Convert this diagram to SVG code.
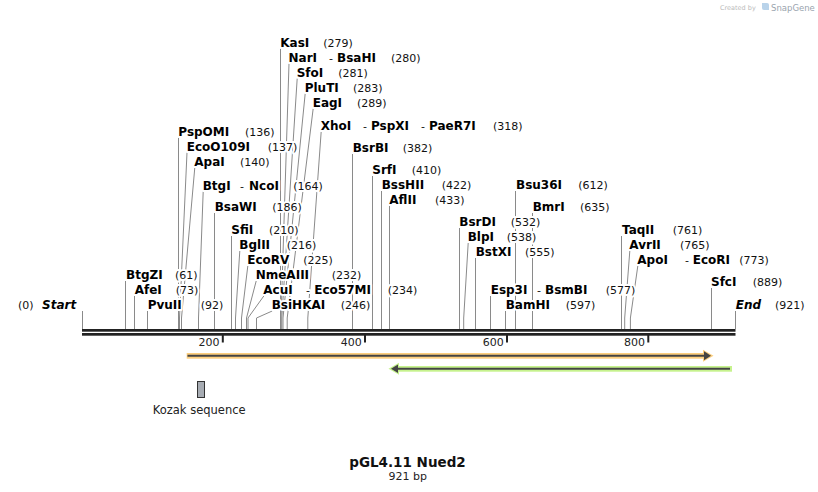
<svg xmlns="http://www.w3.org/2000/svg" width="818" height="492" viewBox="0 0 818 492">
<style>
.n{font-family:"DejaVu Sans",Verdana,sans-serif;font-weight:bold;font-size:12px;fill:#000}
.i{font-style:italic}
.p{font-family:"DejaVu Sans",Verdana,sans-serif;font-size:11px;fill:#111}
.h{paint-order:stroke;stroke:#fff;stroke-width:4px;stroke-linejoin:round}
.c{fill:none;stroke:#8a8a8a;stroke-width:1}
.t{font-family:"DejaVu Sans",Verdana,sans-serif;font-size:11px;fill:#222}
</style>
<rect width="818" height="492" fill="#fff"/>
<g id="logo">
<text x="720" y="10" style="font-family:'DejaVu Sans',sans-serif;font-size:6.5px;fill:#bbb">Created by</text>
<path d="M762,3 h5 a2,2 0 0 1 2,2 v5 h-5 a2,2 0 0 1 -2,-2 z" fill="#b9d3ea"/>
<text x="771" y="10.5" style="font-family:'DejaVu Sans',sans-serif;font-size:8.5px;fill:#9aa4ae">SnapGene</text>
</g>
<g id="connectors">
<path class="c" d="M82.5,311V329"/>
<path class="c" d="M735.5,311V329"/>
<path class="c" d="M125.5,281V329"/>
<path class="c" d="M134.5,296V329"/>
<path class="c" d="M147.5,311V329"/>
<path class="c" d="M178.5,137.5V329"/>
<path class="c" d="M187,152.5L179.5,318V329"/>
<path class="c" d="M194.8,167.5L181.5,318V329"/>
<path class="c" d="M203.2,191.5L198.5,318V329"/>
<path class="c" d="M214.5,213V329"/>
<path class="c" d="M231.5,236V329"/>
<path class="c" d="M239.8,251L235.5,318V329"/>
<path class="c" d="M247.8,266L241.5,318V329"/>
<path class="c" d="M256.2,281L246.5,318V329"/>
<path class="c" d="M263.8,296L248,318V329"/>
<path class="c" d="M272.2,311L256.5,318V329"/>
<path class="c" d="M280.5,48.5V329"/>
<path class="c" d="M289,63.5L281,318V329"/>
<path class="c" d="M297.2,78.5L281.8,318V329"/>
<path class="c" d="M305.2,93.5L283,318V329"/>
<path class="c" d="M313.2,108.5L287.2,318V329"/>
<path class="c" d="M321.2,131.5L307.8,318V329"/>
<path class="c" d="M352.5,154V329"/>
<path class="c" d="M372.5,176V329"/>
<path class="c" d="M381.5,191V329"/>
<path class="c" d="M389.5,206V329"/>
<path class="c" d="M459.5,228V329"/>
<path class="c" d="M468.2,243L463.7,318V329"/>
<path class="c" d="M475.5,258V329"/>
<path class="c" d="M490.5,296V329"/>
<path class="c" d="M505.5,311V329"/>
<path class="c" d="M515.5,191V329"/>
<path class="c" d="M532.5,213V329"/>
<path class="c" d="M621.5,236V329"/>
<path class="c" d="M629.8,251L624.7,318V329"/>
<path class="c" d="M637.8,266L630.4,318V329"/>
<path class="c" d="M711.5,288V329"/>
</g>
<g id="backbone">
<rect x="82" y="329" width="653.5" height="2.7" fill="#222"/>
<rect x="82" y="333" width="653.5" height="2.7" fill="#222"/>
<rect x="221.8" y="335" width="2" height="7.5" fill="#222"/>
<rect x="364" y="335" width="2" height="7.5" fill="#222"/>
<rect x="506" y="335" width="2" height="7.5" fill="#222"/>
<rect x="647.3" y="335" width="2" height="7.5" fill="#222"/>
<text class="t" x="219.5" y="346" text-anchor="end">200</text>
<text class="t" x="361.8" y="346" text-anchor="end">400</text>
<text class="t" x="503.8" y="346" text-anchor="end">600</text>
<text class="t" x="645" y="346" text-anchor="end">800</text>
</g>
<g id="feature-orange">
<rect x="186.7" y="353" width="520" height="5.7" fill="#fcce7e"/>
<polygon points="703,349.8 713.5,355.8 703,361.8" fill="#fcce7e"/>
<line x1="187.5" y1="355.8" x2="706" y2="355.8" stroke="#444" stroke-width="2"/>
<polygon points="704,351.3 711,355.8 704,360.3" fill="#444"/>
</g>
<g id="feature-green">
<rect x="395" y="366" width="737" height="5.7" fill="#c6f28e" transform="translate(0,0)" style="display:none"/>
<rect x="395" y="366" width="337" height="5.7" fill="#c6f28e"/>
<polygon points="399,362.8 388.5,368.8 399,374.8" fill="#c6f28e"/>
<line x1="396" y1="368.8" x2="730" y2="368.8" stroke="#444" stroke-width="2"/>
<polygon points="398,364.5 391,368.8 398,373.1" fill="#444"/>
</g>
<g id="kozak">
<rect x="197.5" y="381.5" width="7" height="16" fill="#a7acb3" stroke="#333" stroke-width="1"/>
<text x="199.2" y="414.3" text-anchor="middle" style="font-family:'DejaVu Sans',Verdana,sans-serif;font-size:11.5px;fill:#222">Kozak sequence</text>
</g>
<g id="title">
<text x="407.5" y="466.5" text-anchor="middle" style="font-family:'DejaVu Sans',Verdana,sans-serif;font-weight:bold;font-size:13.5px;fill:#111">pGL4.11 Nued2</text>
<text x="407.8" y="480" text-anchor="middle" style="font-family:'DejaVu Sans',Verdana,sans-serif;font-size:11px;fill:#222">921 bp</text>
</g>
<g id="start"><text class="p h" x="18" y="309">(0)</text><text class="n i h" x="42" y="309">Start</text></g>
<g id="end"><text class="n i h" x="735.7" y="309">End</text><text class="p h" x="775" y="309">(921)</text></g>
<g id="KasI"><text class="n h" x="280.3" y="46.5">KasI</text><text class="p h" x="323.3" y="46.5">(279)</text></g>
<g id="NarI"><text class="n h" x="288.5" y="61.5">NarI</text><text class="p h" x="329" y="61.5">-</text><text class="n h" x="337" y="61.5">BsaHI</text><text class="p h" x="391" y="61.5">(280)</text></g>
<g id="SfoI"><text class="n h" x="296.7" y="76.5">SfoI</text><text class="p h" x="338.3" y="76.5">(281)</text></g>
<g id="PluTI"><text class="n h" x="304.7" y="91.5">PluTI</text><text class="p h" x="353" y="91.5">(283)</text></g>
<g id="EagI"><text class="n h" x="312.7" y="106.5">EagI</text><text class="p h" x="357" y="106.5">(289)</text></g>
<g id="XhoI"><text class="n h" x="320.7" y="129.5">XhoI</text><text class="p h" x="363" y="129.5">-</text><text class="n h" x="371" y="129.5">PspXI</text><text class="p h" x="421" y="129.5">-</text><text class="n h" x="429" y="129.5">PaeR7I</text><text class="p h" x="493" y="129.5">(318)</text></g>
<g id="PspOMI"><text class="n h" x="178.3" y="135.5">PspOMI</text><text class="p h" x="245" y="135.5">(136)</text></g>
<g id="EcoO109I"><text class="n h" x="186.7" y="150.5">EcoO109I</text><text class="p h" x="267.7" y="150.5">(137)</text></g>
<g id="ApaI"><text class="n h" x="194.3" y="165.5">ApaI</text><text class="p h" x="240" y="165.5">(140)</text></g>
<g id="BtgI"><text class="n h" x="202.7" y="189.5">BtgI</text><text class="p h" x="240" y="189.5">-</text><text class="n h" x="249" y="189.5">NcoI</text><text class="p h" x="293.3" y="189.5">(164)</text></g>
<g id="BsaWI"><text class="n h" x="214.7" y="211">BsaWI</text><text class="p h" x="272.3" y="211">(186)</text></g>
<g id="SfiI"><text class="n h" x="231.3" y="234">SfiI</text><text class="p h" x="269" y="234">(210)</text></g>
<g id="BglII"><text class="n h" x="239.3" y="249">BglII</text><text class="p h" x="286.7" y="249">(216)</text></g>
<g id="EcoRV"><text class="n h" x="247.3" y="264">EcoRV</text><text class="p h" x="303.3" y="264">(225)</text></g>
<g id="NmeAIII"><text class="n h" x="255.7" y="279">NmeAIII</text><text class="p h" x="331.7" y="279">(232)</text></g>
<g id="AcuI"><text class="n h" x="263.3" y="294">AcuI</text><text class="p h" x="306" y="294">-</text><text class="n h" x="314.3" y="294">Eco57MI</text><text class="p h" x="387.7" y="294">(234)</text></g>
<g id="BsiHKAI"><text class="n h" x="271.7" y="309">BsiHKAI</text><text class="p h" x="340.7" y="309">(246)</text></g>
<g id="BtgZI"><text class="n h" x="126" y="279">BtgZI</text><text class="p h" x="175" y="279">(61)</text></g>
<g id="AfeI"><text class="n h" x="134.7" y="294">AfeI</text><text class="p h" x="175.7" y="294">(73)</text></g>
<g id="PvuII"><text class="n h" x="147.7" y="309">PvuII</text><text class="p h" x="200.7" y="309">(92)</text></g>
<g id="BsrBI"><text class="n h" x="352.7" y="152">BsrBI</text><text class="p h" x="402.7" y="152">(382)</text></g>
<g id="SrfI"><text class="n h" x="372.3" y="174">SrfI</text><text class="p h" x="411.7" y="174">(410)</text></g>
<g id="BssHII"><text class="n h" x="381.7" y="189">BssHII</text><text class="p h" x="441.7" y="189">(422)</text></g>
<g id="AflII"><text class="n h" x="389.3" y="204">AflII</text><text class="p h" x="435" y="204">(433)</text></g>
<g id="BsrDI"><text class="n h" x="459.3" y="226">BsrDI</text><text class="p h" x="510.7" y="226">(532)</text></g>
<g id="BlpI"><text class="n h" x="467.7" y="241">BlpI</text><text class="p h" x="506.7" y="241">(538)</text></g>
<g id="BstXI"><text class="n h" x="475.7" y="256">BstXI</text><text class="p h" x="525" y="256">(555)</text></g>
<g id="Esp3I"><text class="n h" x="490.7" y="294">Esp3I</text><text class="p h" x="537" y="294">-</text><text class="n h" x="545" y="294">BsmBI</text><text class="p h" x="605.7" y="294">(577)</text></g>
<g id="BamHI"><text class="n h" x="505.7" y="309">BamHI</text><text class="p h" x="565.7" y="309">(597)</text></g>
<g id="Bsu36I"><text class="n h" x="516" y="189">Bsu36I</text><text class="p h" x="578.3" y="189">(612)</text></g>
<g id="BmrI"><text class="n h" x="532.7" y="211">BmrI</text><text class="p h" x="580" y="211">(635)</text></g>
<g id="TaqII"><text class="n h" x="622" y="234">TaqII</text><text class="p h" x="672.7" y="234">(761)</text></g>
<g id="AvrII"><text class="n h" x="629.3" y="249">AvrII</text><text class="p h" x="680" y="249">(765)</text></g>
<g id="ApoI"><text class="n h" x="637.3" y="264">ApoI</text><text class="p h" x="685" y="264">-</text><text class="n h" x="692.7" y="264">EcoRI</text><text class="p h" x="739.3" y="264">(773)</text></g>
<g id="SfcI"><text class="n h" x="711" y="286">SfcI</text><text class="p h" x="752.7" y="286">(889)</text></g>
</svg>
